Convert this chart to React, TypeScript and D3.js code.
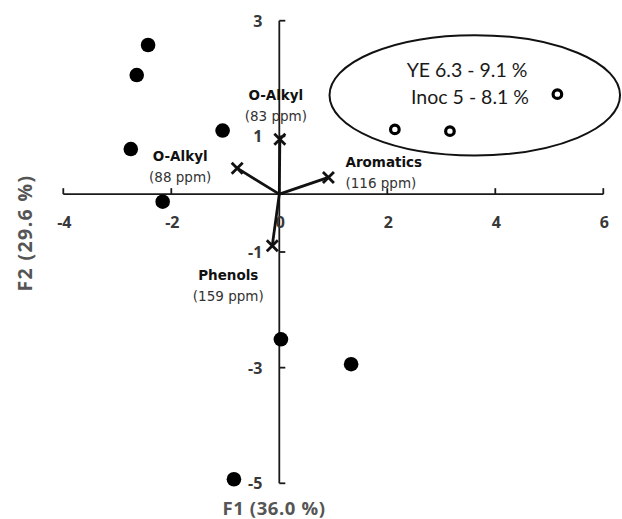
import React from "react";
import * as d3 from "d3";

const W = 622;
const H = 519;

const xTicks = [-4, -2, 0, 2, 4, 6];
const yTicks = [3, 1, -1, -3, -5];

const filledX = [-2.43, -2.64, -1.05, -2.75, -2.16, 0.03, 1.33, -0.84];
const filledY = [2.58, 2.06, 1.1, 0.78, -0.13, -2.51, -2.94, -4.93];

const openX = [2.14, 3.16, 5.15];
const openY = [1.12, 1.09, 1.73];

const vecNames = ["O-Alkyl", "O-Alkyl", "Aromatics", "Phenols"];
const vecPpm = ["(83 ppm)", "(88 ppm)", "(116 ppm)", "(159 ppm)"];
const vecX = [0.01, -0.78, 0.91, -0.13];
const vecY = [0.95, 0.45, 0.29, -0.89];

const groupText = ["YE 6.3 - 9.1 %", "Inoc 5 - 8.1 %"];
const groupEllipse = { cx: 3.62, cy: 1.71, rx: 2.69, ry: 1.04 };

const xTitle = "F1 (36.0 %)";
const yTitle = "F2 (29.6 %)";

export default function App() {
  const x = d3.scaleLinear().domain([-4, 6]).range([63.3, 603.3]);
  const y = d3.scaleLinear().domain([-5, 3]).range([483.3, 20.7]);
  const x0 = x(0);
  const y0 = y(0);

  const labelPos = [
    { dx: -4, dy: -39, anchor: "middle" },
    { dx: -57, dy: -7, anchor: "middle" },
    { dx: 17, dy: -10, anchor: "start" },
    { dx: -44, dy: 34, anchor: "middle" },
  ];

  const cross = (cx: number, cy: number, s: number) =>
    `M${cx - s},${cy - s}L${cx + s},${cy + s}M${cx - s},${cy + s}L${cx + s},${cy - s}`;

  return (
    <svg
      width={W}
      height={H}
      style={{ position: "absolute", left: 0, top: 0, background: "#fff" }}
    >
      <g stroke="#1a1a1a" strokeWidth={1.8} fill="none">
        <line x1={x(-4)} x2={x(6)} y1={y0} y2={y0} />
        {xTicks.map((t) => (
          <line key={"xt" + t} x1={x(t)} x2={x(t)} y1={y0} y2={y0 - 6} />
        ))}
        <line x1={x0} x2={x0} y1={y(3)} y2={y(-5)} />
        {yTicks.map((t) => (
          <line key={"yt" + t} x1={x0} x2={x0 + 6} y1={y(t)} y2={y(t)} />
        ))}
      </g>

      <g fontFamily="'Open Sans', sans-serif" fontWeight={700} fontSize={16} fill="#383838">
        {xTicks.map((t) => (
          <text key={"xl" + t} x={x(t) + 1} y={y0 + 34} textAnchor="middle">
            {t}
          </text>
        ))}
        {yTicks.map((t) => (
          <text key={"yl" + t} x={x0 - 17} y={y(t) + 6} textAnchor="end">
            {t}
          </text>
        ))}
      </g>

      <g stroke="#111" strokeWidth={2.8} fill="none">
        {vecX.map((vx, i) => (
          <g key={"v" + i}>
            <line x1={x0} y1={y0} x2={x(vx)} y2={y(vecY[i])} />
            <path d={cross(x(vx), y(vecY[i]), 5.5)} />
          </g>
        ))}
      </g>
      {vecX.map((vx, i) => {
        const p = labelPos[i];
        const lx = x(vx) + p.dx;
        const ly = y(vecY[i]) + p.dy;
        return (
          <g key={"vl" + i} fontFamily="'DejaVu Sans', sans-serif" fontSize={13.5}>
            <text x={lx} y={ly} textAnchor={p.anchor} fontWeight={700} fill="#111">
              {vecNames[i]}
            </text>
            <text x={lx} y={ly + 21} textAnchor={p.anchor} fill="#333">
              {vecPpm[i]}
            </text>
          </g>
        );
      })}

      <ellipse
        cx={x(groupEllipse.cx)}
        cy={y(groupEllipse.cy)}
        rx={x(groupEllipse.rx) - x(0)}
        ry={y(0) - y(groupEllipse.ry)}
        fill="none"
        stroke="#111"
        strokeWidth={2}
      />
      <g fontFamily="Lato, sans-serif" fontSize={19.5} fill="#1a1a1a">
        <text x={467} y={77} textAnchor="middle">{groupText[0]}</text>
        <text x={470} y={104} textAnchor="middle">{groupText[1]}</text>
      </g>

      {filledX.map((px, i) => (
        <circle key={"f" + i} cx={x(px)} cy={y(filledY[i])} r={7.3} fill="#000" />
      ))}
      {openX.map((px, i) => (
        <circle
          key={"o" + i}
          cx={x(px)}
          cy={y(openY[i])}
          r={4.3}
          fill="#fff"
          stroke="#000"
          strokeWidth={3.2}
        />
      ))}

      <g fontFamily="'Open Sans', sans-serif" fontWeight={700} fill="#555">
        <text x={274} y={515} fontSize={18.5} letterSpacing={0.6} textAnchor="middle">{xTitle}</text>
        <text transform="translate(32,233) rotate(-90)" fontSize={19.5} letterSpacing={1.4} textAnchor="middle">{yTitle}</text>
      </g>
    </svg>
  );
}
